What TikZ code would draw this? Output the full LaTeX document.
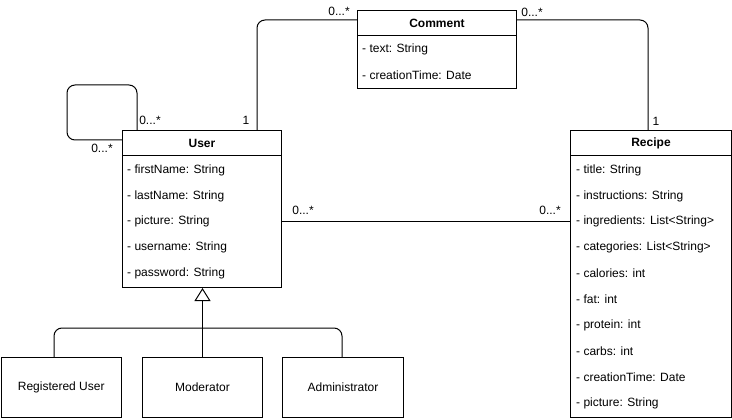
\documentclass[tikz,border=0pt]{standalone}
\usepackage{fontspec}
\setmainfont{Liberation Sans}
\usetikzlibrary{arrows.meta}
\begin{document}
\begin{tikzpicture}[x=1pt,y=-1pt,
  box/.style={draw, line width=1pt, inner sep=0pt, anchor=north west, fill=white},
  txt/.style={font=\fontsize{12}{14}\selectfont, inner sep=0pt},
  attr/.style={txt, anchor=west},
  ttl/.style={font=\bfseries\fontsize{12}{14}\selectfont, inner sep=0pt},
  conn/.style={draw, line width=1pt, rounded corners=8pt},
  gen/.style={draw, line width=1pt, -{Triangle[open,length=13pt,width=16pt,line width=1pt]}}
]
\useasboundingbox (0,0) rectangle (732,420);

% Comment
\node[box, minimum width=159pt, minimum height=78pt] (comment) at (357,10) {};
\draw[line width=1pt] ([yshift=-26pt]comment.north west) -- ([yshift=-26pt]comment.north east);
\node[ttl] (commentT) at ([yshift=-13pt]comment.north) {Comment};
\node[attr] (c1) at (362,49) {- text: String};
\node[attr] (c2) at (362,75) {- creationTime: Date};

% User
\node[box, minimum width=159pt, minimum height=157pt] (user) at (122,130) {};
\draw[line width=1pt] ([yshift=-26pt]user.north west) -- ([yshift=-26pt]user.north east);
\node[ttl] (userT) at ([yshift=-13pt]user.north) {User};
\node[attr] (u1) at (127,170) {- firstName: String};
\node[attr] (u2) at (127,196) {- lastName: String};
\node[attr] (u3) at (127,221) {- picture: String};
\node[attr] (u4) at (127,247) {- username: String};
\node[attr] (u5) at (127,273) {- password: String};

% Recipe
\node[box, minimum width=161pt, minimum height=287pt] (recipe) at (570,130) {};
\draw[line width=1pt] ([yshift=-26pt]recipe.north west) -- ([yshift=-26pt]recipe.north east);
\node[ttl] (recipeT) at ([yshift=-13pt]recipe.north) {Recipe};
\node[attr] (r1) at (576,170) {- title: String};
\node[attr] (r2) at (576,196) {- instructions: String};
\node[attr] (r3) at (576,221) {- ingredients: List<String>};
\node[attr] (r4) at (576,247) {- categories: List<String>};
\node[attr] (r5) at (576,273) {- calories: int};
\node[attr] (r6) at (576,299) {- fat: int};
\node[attr] (r7) at (576,325) {- protein: int};
\node[attr] (r8) at (576,351) {- carbs: int};
\node[attr] (r9) at (576,377) {- creationTime: Date};
\node[attr] (r10) at (576,403) {- picture: String};

% Subclasses
\node[box, minimum width=120.5pt, minimum height=60pt] (reg) at (0.5,357) {};
\node[txt] (regT) at (reg.center) {Registered User};
\node[box, minimum width=120pt, minimum height=60pt] (mod) at (142,357) {};
\node[txt] (modT) at (mod.center) {Moderator};
\node[box, minimum width=121pt, minimum height=60pt] (adm) at (282,357) {};
\node[txt] (admT) at (adm.center) {Administrator};

% Connectors
\draw[conn] (user.north -| 257,0) |- ([yshift=-10pt]comment.north west);
\draw[conn] ([yshift=-10pt]comment.north east) -| (recipe.north -| 648,0);
\draw[line width=1pt] (user.east |- 0,221) -- (recipe.west |- 0,221);
\draw[conn] (user.north -| 137,0) -- (137,85) -- (67,85) -- (67,140) -- (user.west |- 0,140);

% Generalisation
\draw[gen] (mod.north) -- (mod.north |- user.south);
\draw[conn] (reg.north -| 54,0) |- (202,328) -| (adm.north -| 342,0);

% Multiplicities
\node[txt] (m1) at (246,120) {1};
\node[txt] (m2) at (339,11) {0...*};
\node[txt] (m3) at (532,12) {0...*};
\node[txt] (m4) at (656,121) {1};
\node[txt] (m5) at (303,210) {0...*};
\node[txt] (m6) at (550,210) {0...*};
\node[txt] (m7) at (150,120) {0...*};
\node[txt] (m8) at (102,148) {0...*};
\end{tikzpicture}
\end{document}
